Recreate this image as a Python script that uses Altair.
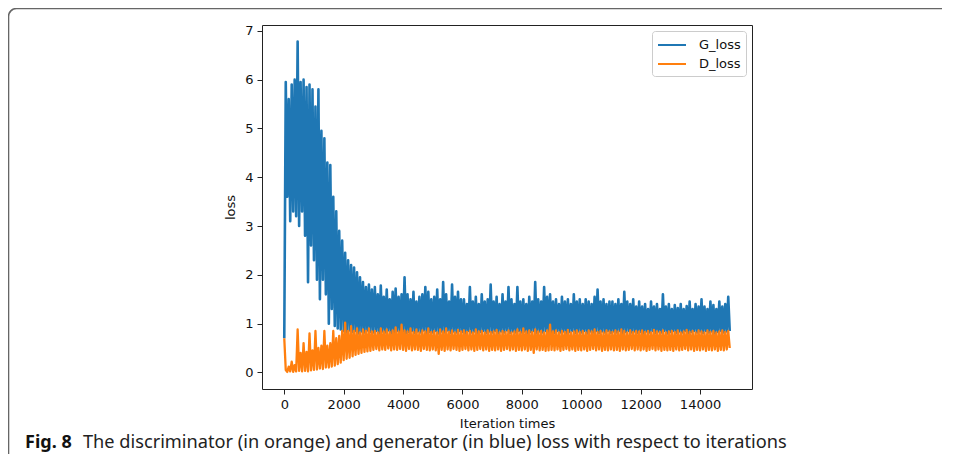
import altair as alt
import pandas as pd

# Iteration axis (sampled every 50 iterations)
ITERATIONS = list(range(0, 15001, 50))

# Generator loss (blue)
G_LOSS = (
    [0.7, 5.95, 3.6, 5.6, 3.1, 5.9, 3.3, 6.0, 3.2, 6.78, 3.0, 5.95, 3.3, 6.0, 2.8, 5.85, 1.85, 5.9, 2.6, 5.8]
    + [2.3, 5.45, 1.9, 5.8, 1.5, 4.95, 1.9, 4.8, 1.6, 4.3, 1.0, 4.25, 1.3, 3.6, 0.95, 3.3, 0.9, 2.9, 0.88, 2.7]
    + [0.85, 2.45, 0.82, 2.3, 0.86, 2.2, 0.83, 2.15, 0.85, 2.05, 0.8, 1.95, 0.84, 1.85, 0.82, 1.75, 0.86, 1.8, 0.83, 1.7]
    + [0.82, 1.75, 0.85, 1.6, 0.8, 1.78, 0.84, 1.55, 0.82, 1.7, 0.86, 1.5, 0.8, 1.65, 0.83, 1.72, 0.85, 1.55, 0.82, 1.6]
    + [0.84, 1.95, 0.8, 1.6, 0.83, 1.5, 0.85, 1.65, 0.81, 1.45, 0.84, 1.55, 0.82, 1.6, 0.86, 1.75, 0.8, 1.65, 0.83, 1.5]
    + [0.82, 1.55, 0.85, 1.7, 0.8, 1.5, 0.84, 1.85, 0.82, 1.6, 0.86, 1.45, 0.81, 1.8, 0.84, 1.55, 0.82, 1.65, 0.85, 1.5]
    + [0.83, 1.5, 0.8, 1.4, 0.85, 1.75, 0.82, 1.45, 0.84, 1.55, 0.8, 1.4, 0.83, 1.6, 0.85, 1.45, 0.81, 1.5, 0.84, 1.8]
    + [0.82, 1.45, 0.85, 1.55, 0.8, 1.4, 0.84, 1.6, 0.82, 1.45, 0.86, 1.75, 0.81, 1.5, 0.84, 1.4, 0.82, 1.75, 0.85, 1.45]
    + [0.82, 1.5, 0.84, 1.4, 0.8, 1.55, 0.83, 1.45, 0.85, 1.85, 0.81, 1.5, 0.84, 1.45, 0.82, 1.75, 0.85, 1.55, 0.8, 1.6]
    + [0.83, 1.45, 0.81, 1.5, 0.85, 1.4, 0.82, 1.55, 0.84, 1.45, 0.8, 1.5, 0.83, 1.4, 0.85, 1.6, 0.81, 1.45, 0.84, 1.5]
    + [0.82, 1.4, 0.85, 1.5, 0.8, 1.45, 0.84, 1.4, 0.82, 1.55, 0.85, 1.7, 0.81, 1.45, 0.84, 1.5, 0.82, 1.4, 0.85, 1.45]
    + [0.81, 1.45, 0.84, 1.4, 0.82, 1.5, 0.85, 1.4, 0.8, 1.65, 0.83, 1.45, 0.85, 1.4, 0.82, 1.5, 0.84, 1.35, 0.81, 1.45]
    + [0.83, 1.35, 0.8, 1.4, 0.84, 1.3, 0.82, 1.45, 0.85, 1.35, 0.81, 1.4, 0.84, 1.3, 0.82, 1.6, 0.85, 1.35, 0.8, 1.4]
    + [0.83, 1.3, 0.85, 1.38, 0.81, 1.32, 0.84, 1.4, 0.82, 1.3, 0.85, 1.36, 0.8, 1.45, 0.83, 1.3, 0.85, 1.4, 0.82, 1.35]
    + [0.84, 1.5, 0.81, 1.35, 0.85, 1.3, 0.82, 1.45, 0.84, 1.38, 0.8, 1.3, 0.83, 1.45, 0.85, 1.35, 0.82, 1.4, 0.84, 1.55]
    + [0.85]
)

# Discriminator loss (orange)
D_LOSS = (
    [0.7, 0.05, 0.01, 0.12, 0.02, 0.22, 0.01, 0.15, 0.02, 0.88, 0.03, 0.4, 0.02, 0.6, 0.03, 0.42, 0.02, 0.8, 0.04, 0.45]
    + [0.05, 0.85, 0.06, 0.5, 0.08, 0.55, 0.07, 0.85, 0.1, 0.55, 0.1, 0.6, 0.12, 0.85, 0.14, 0.7, 0.17, 0.75, 0.2, 0.85]
    + [0.25, 1.02, 0.28, 0.85, 0.3, 0.95, 0.33, 0.85, 0.36, 0.9, 0.38, 0.82, 0.4, 0.88, 0.42, 0.85, 0.43, 0.9, 0.44, 0.84]
    + [0.46, 0.85, 0.48, 0.82, 0.45, 0.9, 0.47, 0.84, 0.46, 0.88, 0.49, 0.83, 0.45, 0.86, 0.47, 0.92, 0.46, 0.84, 0.48, 0.98]
    + [0.46, 0.86, 0.44, 0.84, 0.48, 0.9, 0.45, 0.83, 0.47, 0.88, 0.46, 0.82, 0.44, 0.86, 0.48, 0.84, 0.46, 0.9, 0.45, 0.83]
    + [0.47, 0.85, 0.45, 0.82, 0.38, 0.88, 0.46, 0.84, 0.44, 0.9, 0.47, 0.83, 0.45, 0.86, 0.48, 0.82, 0.46, 0.87, 0.44, 0.84]
    + [0.46, 0.86, 0.48, 0.83, 0.45, 0.85, 0.47, 0.82, 0.44, 0.88, 0.46, 0.84, 0.48, 0.85, 0.45, 0.82, 0.47, 0.86, 0.44, 0.83]
    + [0.46, 0.84, 0.45, 0.87, 0.47, 0.82, 0.44, 0.85, 0.46, 0.83, 0.48, 0.86, 0.45, 0.82, 0.47, 0.84, 0.44, 0.88, 0.46, 0.83]
    + [0.45, 0.9, 0.47, 0.84, 0.44, 0.86, 0.46, 0.83, 0.4, 0.88, 0.47, 0.84, 0.45, 0.85, 0.46, 0.82, 0.44, 0.86, 0.45, 0.98]
    + [0.46, 0.84, 0.45, 0.86, 0.47, 0.82, 0.44, 0.85, 0.46, 0.83, 0.48, 0.87, 0.45, 0.82, 0.47, 0.84, 0.44, 0.86, 0.46, 0.83]
    + [0.45, 0.85, 0.47, 0.82, 0.44, 0.86, 0.46, 0.84, 0.48, 0.88, 0.45, 0.83, 0.47, 0.85, 0.44, 0.82, 0.46, 0.86, 0.45, 0.84]
    + [0.47, 0.83, 0.45, 0.86, 0.46, 0.84, 0.44, 0.88, 0.47, 0.85, 0.45, 0.82, 0.46, 0.86, 0.48, 0.83, 0.45, 0.85, 0.47, 0.84]
    + [0.45, 0.86, 0.47, 0.83, 0.44, 0.85, 0.46, 0.82, 0.48, 0.87, 0.45, 0.84, 0.47, 0.83, 0.44, 0.86, 0.46, 0.82, 0.45, 0.84]
    + [0.46, 0.85, 0.44, 0.83, 0.47, 0.86, 0.45, 0.82, 0.46, 0.84, 0.48, 0.87, 0.45, 0.83, 0.47, 0.85, 0.44, 0.82, 0.46, 0.86]
    + [0.45, 0.84, 0.47, 0.82, 0.44, 0.86, 0.46, 0.83, 0.45, 0.85, 0.47, 0.82, 0.44, 0.84, 0.46, 0.86, 0.45, 0.83, 0.47, 0.85]
    + [0.5]
)

SERIES = ["G_loss", "D_loss"]
COLORS = ["#1f77b4", "#ff7f0e"]
X_TICKS = [0, 2000, 4000, 6000, 8000, 10000, 12000, 14000]
Y_TICKS = [0, 1, 2, 3, 4, 5, 6, 7]
CAPTION_BOLD = "Fig. 8"
CAPTION_TEXT = "The discriminator (in orange) and generator (in blue) loss with respect to iterations"

assert len(G_LOSS) == len(ITERATIONS) == len(D_LOSS)

g_df = pd.DataFrame({"iteration": ITERATIONS, "loss": G_LOSS, "series": SERIES[0]})
d_df = pd.DataFrame({"iteration": ITERATIONS, "loss": D_LOSS, "series": SERIES[1]})

W, H = 490, 364
PAD_L, PAD_T, PAD_R, PAD_B = 254, 17, 190, 65

x_enc = alt.X(
    "iteration:Q",
    scale=alt.Scale(domain=[-750, 15750], nice=False, zero=False),
    axis=alt.Axis(values=X_TICKS, format="d", title="Iteration times", titleY=34, titleBaseline="middle"),
)
y_enc = alt.Y(
    "loss:Q",
    scale=alt.Scale(domain=[-0.34, 7.12], nice=False, zero=False),
    axis=alt.Axis(values=Y_TICKS, format="d", title="loss", titleX=-32, titleY=H / 2, titleBaseline="middle"),
)
color_enc = alt.Color(
    "series:N",
    scale=alt.Scale(domain=SERIES, range=COLORS),
    legend=alt.Legend(
        title=None,
        orient="none",
        legendX=390,
        legendY=6,
        symbolType="M-1.75,0H1.75",
        symbolSize=256,
        symbolStrokeWidth=2,
        symbolOffset=6,
        labelFont="DejaVu Sans",
        labelFontSize=13,
        labelOffset=18,
        labelColor="#111",
        rowPadding=3,
        padding=5,
        strokeColor="#cccccc",
        fillColor="white",
        cornerRadius=3,
    ),
)

g_line = alt.Chart(g_df).mark_line(strokeWidth=2.6, strokeJoin="round", clip=True).encode(
    x=x_enc, y=y_enc, color=color_enc
)
d_line = alt.Chart(d_df).mark_line(strokeWidth=2.3, strokeJoin="round", clip=True).encode(
    x=x_enc, y=y_enc, color=color_enc
)

one = pd.DataFrame({"k": [0]})
frame = alt.Chart(one).mark_rect(
    fill=None, stroke="#666666", strokeWidth=1.6, cornerRadius=8
).encode(
    x=alt.value(-PAD_L + 0.5), x2=alt.value(W + PAD_R + 30),
    y=alt.value(-PAD_T + 0.5), y2=alt.value(H + PAD_B + 20),
)
cap_bold = alt.Chart(one).mark_text(
    text=CAPTION_BOLD, font="Noto Sans", fontWeight="bold", fontSize=18, align="left", baseline="alphabetic", color="#111"
).encode(x=alt.value(25 - 8 - PAD_L), y=alt.value(448 - 8 - PAD_T))
cap_text = alt.Chart(one).mark_text(
    text=CAPTION_TEXT, font="Noto Sans", fontSize=18.2, align="left", baseline="alphabetic", color="#222"
).encode(x=alt.value(83 - 8 - PAD_L), y=alt.value(448 - 8 - PAD_T))

chart = (
    alt.layer(frame, g_line, d_line, cap_bold, cap_text)
    .properties(
        width=W,
        height=H,
        autosize=alt.AutoSizeParams(type="none"),
        padding={"left": PAD_L, "top": PAD_T, "right": PAD_R, "bottom": PAD_B},
        background="white",
    )
    .configure_view(stroke="#222222", strokeWidth=1)
    .configure_axis(
        grid=False,
        domain=False,
        tickSize=5,
        tickColor="#222222",
        labelFont="DejaVu Sans",
        labelFontSize=13,
        labelColor="#111111",
        labelPadding=4,
        titleFont="DejaVu Sans",
        titleFontSize=13,
        titleFontWeight="normal",
        titleColor="#111111",
    )
)

chart.save("out.html", embed_options={"renderer": "svg", "actions": False})
